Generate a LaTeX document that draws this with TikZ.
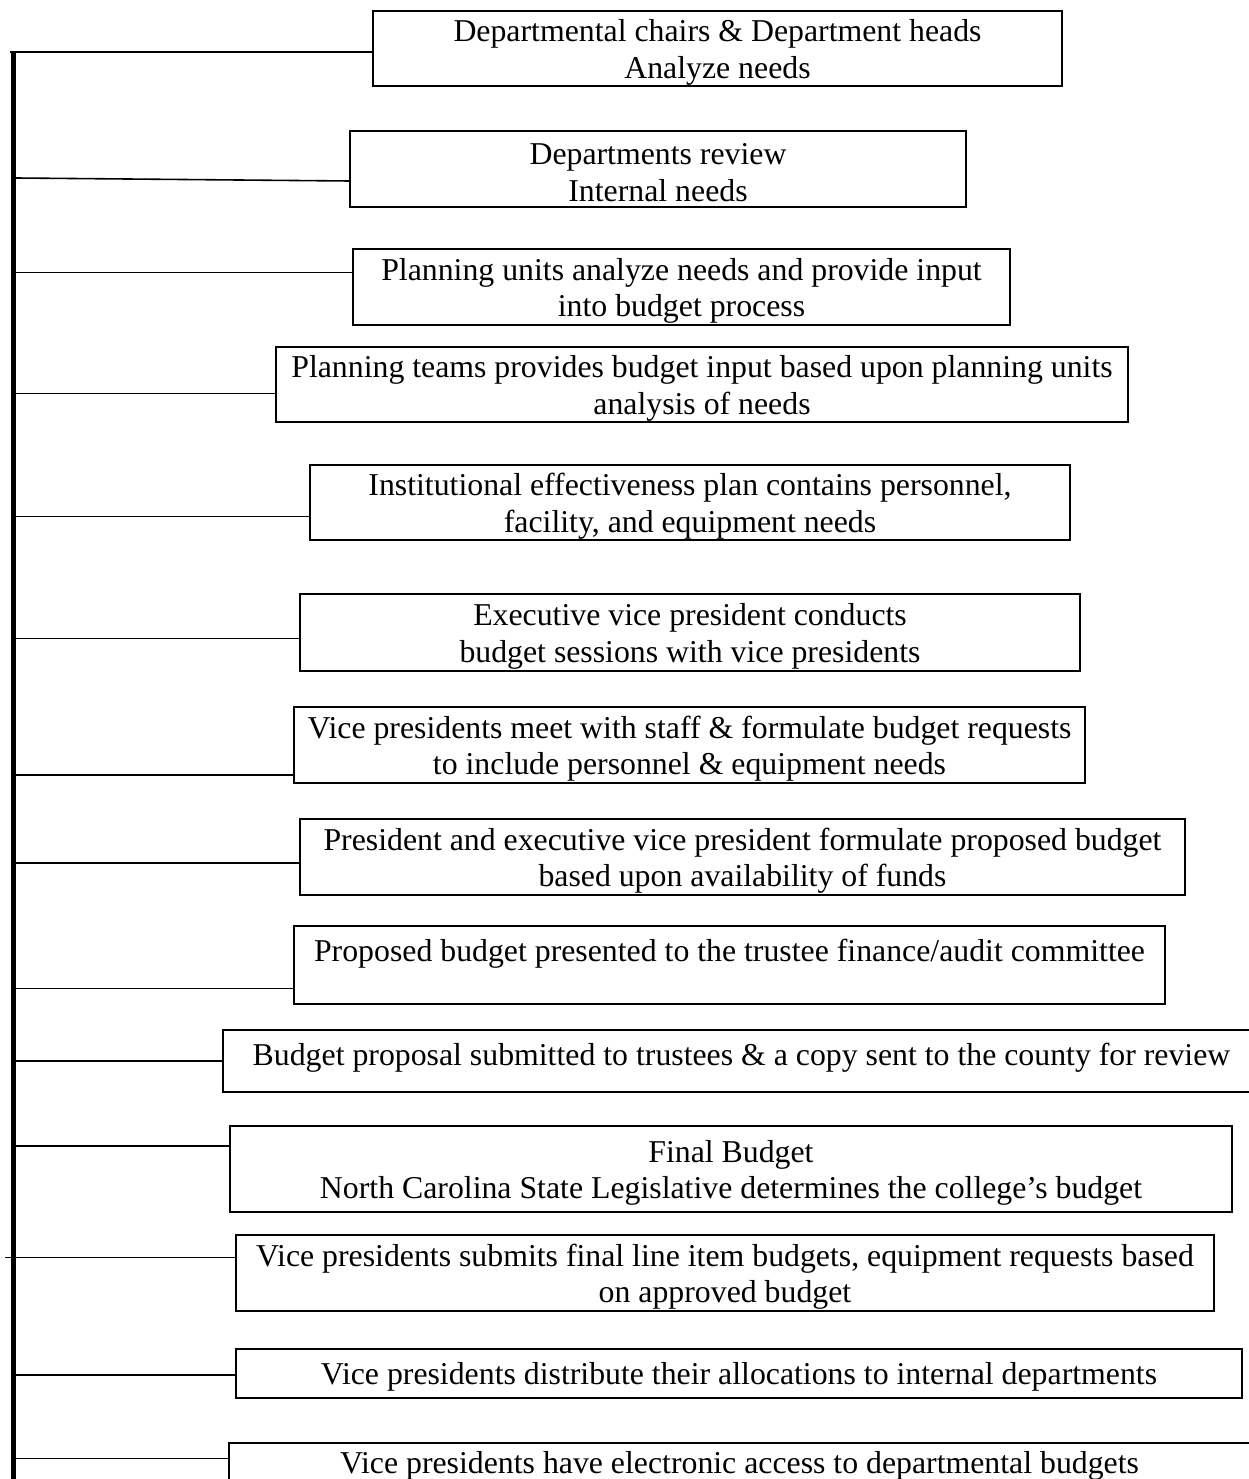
\documentclass[tikz,border=0pt]{standalone}
\usepackage{fontspec}
\setmainfont{Liberation Serif}
\tikzset{
  stepbox/.style={draw, line width=0.75pt, inner sep=0pt},
  steptext/.style={inner sep=0pt, align=center,
    font=\fontsize{12pt}{13.8pt}\selectfont},
  conn/.style={line width=0.6pt},
  spine/.style={line width=2pt},
}
% box from (x1,y1) to (x2,y2) in reference pixels, with its text
\newcommand\mkbox[6]{%
  \node[stepbox, minimum width={(#4-#2)*0.3774pt}, minimum height={(#5-#3)*0.3774pt}]
    (#1) at ({(#2+#4)/2},{(#3+#5)/2}) {};
  \node[steptext] (#1t) at ([yshift=-1.4pt]#1.center) {#6};}
\begin{document}
\begin{tikzpicture}[x=0.3774pt, y=-0.3774pt]
\fill[white, use as bounding box] (0,0) rectangle (1248,1479);

% boxes
\mkbox{b1}{373}{11}{1062}{86}{Departmental chairs \& Department heads\\Analyze needs}
\mkbox{b2}{350}{131}{966}{207}{Departments review\\Internal needs}
\mkbox{b3}{353}{249}{1010}{325}{Planning units analyze needs and provide input\\into budget process}
\mkbox{b4}{276}{347}{1128}{422}{Planning teams provides budget input based upon planning units\\analysis of needs}
\mkbox{b5}{310}{465}{1070}{540}{Institutional effectiveness plan contains personnel,\\facility, and equipment needs}
\mkbox{b6}{300}{594}{1080}{671}{Executive vice president conducts\\budget sessions with vice presidents}
\mkbox{b7}{294}{707}{1085}{783}{Vice presidents meet with staff \& formulate budget requests\\to include personnel \& equipment needs}
\mkbox{b8}{300}{819}{1185}{895}{President and executive vice president formulate proposed budget\\based upon availability of funds}
\mkbox{b9}{294}{926}{1165}{1004}{Proposed budget presented to the trustee finance/audit committee\\\mbox{}}
\mkbox{b10}{223}{1030}{1260}{1092}{Budget proposal submitted to trustees \& a copy sent to the county for review\\[-6pt]\mbox{}}
\mkbox{b11}{230}{1126}{1232}{1212}{Final Budget\\North Carolina State Legislative determines the college’s budget}
\mkbox{b12}{236}{1235}{1214}{1311}{Vice presidents submits final line item budgets, equipment requests based\\on approved budget}
\mkbox{b13}{236}{1349}{1242}{1398}{Vice presidents distribute their allocations to internal departments}
\mkbox{b14}{229}{1443}{1250}{1482}{Vice presidents have electronic access to departmental budgets}

% spine
\coordinate (bartop) at (13.3,51.5);
\coordinate (barbot) at (13.3,1490);
\draw[spine] (bartop) -- (barbot);

% connectors
\coordinate (a1) at (10,52);     \draw[conn] (a1) -- (a1 -| b1.west);
\coordinate (a2) at (16,178);    \coordinate (e2) at (b2.west |- 0,181); \draw[conn] (a2) -- (e2);
\coordinate (a3) at (16,272.7);  \draw[conn] (a3) -- (a3 -| b3.west);
\coordinate (a4) at (16,393.7);  \draw[conn] (a4) -- (a4 -| b4.west);
\coordinate (a5) at (16,516.3);  \draw[conn] (a5) -- (a5 -| b5.west);
\coordinate (a6) at (16,638.7);  \draw[conn] (a6) -- (a6 -| b6.west);
\coordinate (a7) at (16,775);    \draw[conn] (a7) -- (a7 -| b7.west);
\coordinate (a8) at (16,862.7);  \draw[conn] (a8) -- (a8 -| b8.west);
\coordinate (a9) at (16,988.3);  \draw[conn] (a9) -- (a9 -| b9.west);
\coordinate (a10) at (16,1060.7); \draw[conn] (a10) -- (a10 -| b10.west);
\coordinate (a11) at (16,1145.7); \draw[conn] (a11) -- (a11 -| b11.west);
\coordinate (a12) at (5,1257.3);  \draw[conn] (a12) -- (a12 -| b12.west);
\coordinate (a13) at (16,1375);   \draw[conn] (a13) -- (a13 -| b13.west);
\coordinate (a14) at (13,1458.3); \draw[conn] (a14) -- (a14 -| b14.west);
\end{tikzpicture}
\end{document}
